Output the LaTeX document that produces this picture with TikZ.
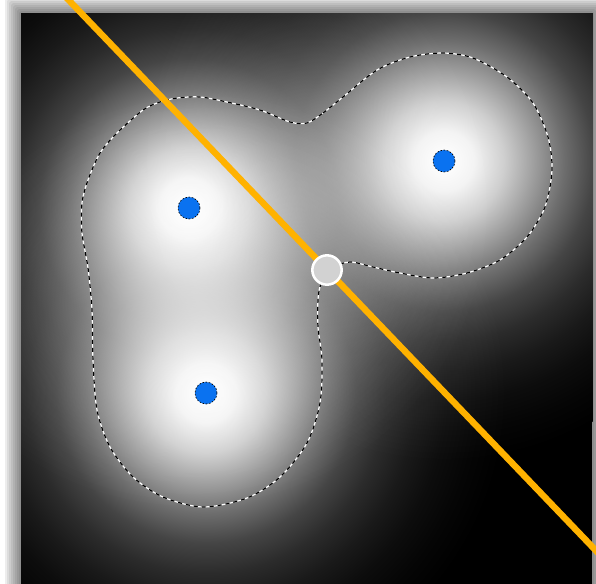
\documentclass[tikz,border=0pt]{standalone}
\usepackage{tikz}
\usepackage{xcolor}

\definecolor{ballblue}{RGB}{10,114,240}
\definecolor{axisorange}{RGB}{255,178,0}
\definecolor{pivotgray}{RGB}{210,210,210}

% gaussian-like glow of one field source (25bp = circle edge)
\pgfdeclareradialshading{glowshade}{\pgfpointorigin}{color(0bp)=(white); color(2.5bp)=(white!95!black); color(5bp)=(white!81!black); color(7.5bp)=(white!62!black); color(10bp)=(white!43!black); color(12.5bp)=(white!27!black); color(15bp)=(white!17!black); color(17.5bp)=(white!10!black); color(20bp)=(white!5!black); color(22.5bp)=(white!2!black); color(25bp)=(black); color(50bp)=(black)}

\begin{document}
\begin{tikzpicture}[x=0.75pt,y=0.75pt,yscale=-1,xscale=1,
  ball/.style={circle,fill=ballblue,draw=black,dash pattern={on 1.2pt off 1.2pt},line width=0.5pt,inner sep=0pt,minimum size=16.5pt},
  pivot/.style={circle,fill=pivotgray,draw=white,line width=1.9pt,inner sep=0pt,minimum size=22pt}]
\useasboundingbox (0,0) rectangle (596,583);

%Shadow of the frame
\foreach \s in {1,...,8}
  \fill [black,opacity=0.07,rounded corners=2pt] (21-2*\s,13-2*\s) rectangle (592+2*\s,590+2*\s);

%Frame
\fill [black] (21,13) rectangle (592,590);

%Field sources
\coordinate (src1) at (189,208);
\coordinate (src2) at (444,161);
\coordinate (src3) at (206,393);
\begin{scope}
  \clip (21,13) rectangle (592,590);
  \begin{scope}[blend group=screen]
    \foreach \c in {src1,src2,src3}
      \shade [shading=glowshade] (\c) circle (300);
  \end{scope}
\end{scope}

%Iso contour
\def\isoline{(307,123) (323,113) (343,97) (377,70) (410,57) (443,53) (473,58) (507,77) (533,103) (548,137) (552,170) (545,207) (527,237) (500,260) (467,273) (433,278) (400,273) (373,267) (350,262) (332,268) (321,284) (318,300) (318,327) (322,360) (320,403) (307,443) (280,477) (247,498) (203,507) (163,497) (133,477) (110,447) (97,410) (93,360) (92,310) (88,268) (82,233) (82,203) (88,180) (100,153) (117,133) (143,110) (160,102) (177,98) (200,97) (227,102) (260,110) (290,122)}
\draw [white,line width=0.9pt] plot [smooth cycle] coordinates {\isoline};
\draw [black,line width=0.9pt,dash pattern={on 3pt off 3pt}] plot [smooth cycle] coordinates {\isoline};

%Balls
\node [ball] (ball1) at (src1) {};
\node [ball] (ball2) at (src2) {};
\node [ball] (ball3) at (src3) {};

%Axis line
\coordinate (axA) at (60,-9);
\coordinate (axB) at (603,558);
\draw [axisorange,line width=4.8pt] (axA) -- (axB);

%Pivot
\node [pivot] (piv) at (327,270) {};

\end{tikzpicture}
\end{document}
